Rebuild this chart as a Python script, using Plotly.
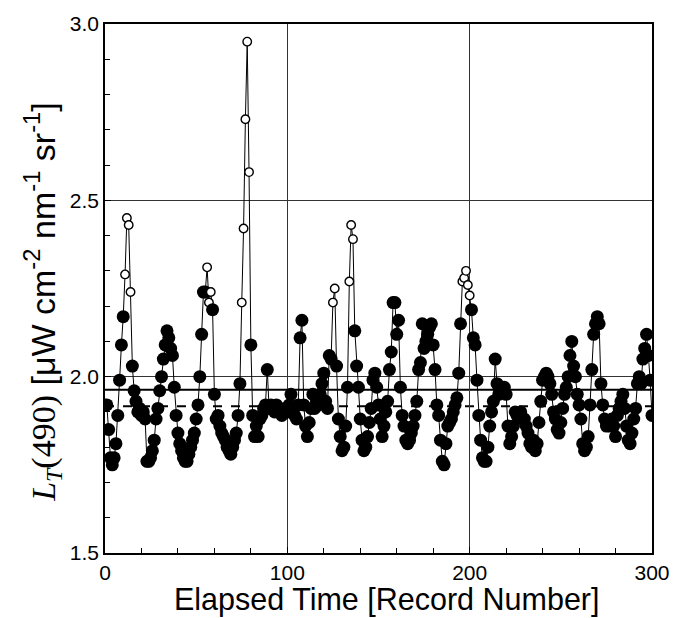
import plotly.graph_objects as go

# Record numbers 1..300 and L_T(490) values
values_001_050 = [1.92, 1.85, 1.77, 1.75, 1.77, 1.81, 1.89, 1.99, 2.09, 2.17,
                  2.29, 2.45, 2.43, 2.24, 2.03, 1.96, 1.93, 1.90, 1.91, 1.89,
                  1.90, 1.88, 1.76, 1.76, 1.77, 1.79, 1.82, 1.88, 1.91, 1.96,
                  2.00, 2.05, 2.09, 2.13, 2.11, 2.08, 2.06, 1.97, 1.89, 1.84,
                  1.81, 1.79, 1.77, 1.76, 1.76, 1.78, 1.80, 1.82, 1.84, 1.88]
values_051_100 = [1.92, 2.00, 2.12, 2.24, 2.24, 2.31, 2.21, 2.24, 2.19, 1.95,
                  1.88, 1.89, 1.86, 1.84, 1.83, 1.82, 1.80, 1.79, 1.78, 1.80,
                  1.82, 1.84, 1.89, 1.98, 2.21, 2.42, 2.73, 2.95, 2.58, 2.09,
                  1.89, 1.83, 1.86, 1.83, 1.88, 1.89, 1.91, 1.92, 2.02, 1.91,
                  1.92, 1.91, 1.90, 1.92, 1.90, 1.91, 1.89, 1.90, 1.91, 1.90]
values_101_150 = [1.92, 1.95, 1.91, 1.89, 1.88, 1.92, 2.11, 2.16, 1.92, 1.86,
                  1.83, 1.87, 1.91, 1.95, 1.91, 1.93, 1.92, 1.95, 1.98, 2.01,
                  1.93, 1.91, 2.06, 2.05, 2.21, 2.25, 2.03, 1.88, 1.83, 1.79,
                  1.80, 1.86, 1.97, 2.27, 2.43, 2.39, 2.13, 2.03, 1.97, 1.88,
                  1.82, 1.79, 1.80, 1.83, 1.87, 1.91, 1.99, 2.01, 1.97, 1.92]
values_151_200 = [1.88, 1.83, 1.86, 1.90, 1.93, 2.02, 2.07, 2.21, 2.21, 2.12,
                  2.16, 1.97, 1.89, 1.86, 1.82, 1.81, 1.82, 1.84, 1.86, 1.89,
                  1.93, 2.02, 2.04, 2.15, 2.08, 2.10, 2.12, 2.14, 2.15, 2.09,
                  2.02, 1.92, 1.89, 1.82, 1.76, 1.75, 1.81, 1.86, 1.87, 1.88,
                  1.90, 1.92, 1.94, 2.01, 2.15, 2.27, 2.28, 2.30, 2.26, 2.23]
values_201_250 = [2.19, 2.11, 2.09, 1.99, 1.89, 1.82, 1.77, 1.76, 1.76, 1.80,
                  1.86, 1.90, 1.93, 2.05, 1.98, 1.95, 1.96, 1.97, 1.97, 1.95,
                  1.86, 1.81, 1.83, 1.86, 1.90, 1.89, 1.89, 1.90, 1.88, 1.88,
                  1.86, 1.84, 1.81, 1.80, 1.82, 1.79, 1.81, 1.87, 1.93, 1.99,
                  2.00, 2.01, 2.00, 1.98, 1.95, 1.90, 1.88, 1.85, 1.84, 1.87]
values_251_300 = [1.91, 1.95, 1.97, 2.00, 2.06, 2.10, 2.03, 2.00, 1.95, 1.92,
                  1.88, 1.81, 1.79, 1.80, 1.83, 1.92, 2.02, 2.12, 2.15, 2.17,
                  2.15, 1.98, 1.92, 1.88, 1.86, 1.87, 1.86, 1.88, 1.86, 1.83,
                  1.89, 1.91, 1.93, 1.95, 1.91, 1.86, 1.82, 1.81, 1.84, 1.88,
                  1.91, 1.98, 2.00, 1.98, 2.05, 2.08, 2.12, 2.06, 1.99, 1.89]

values = (values_001_050 + values_051_100 + values_101_150
          + values_151_200 + values_201_250 + values_251_300)
records = list(range(1, len(values) + 1))

# Records drawn as open circles (flagged values)
flagged_records = [11, 12, 13, 14, 56, 57, 58, 75, 76, 77, 78, 79,
                   125, 126, 134, 135, 136, 196, 197, 198, 199, 200]

# Horizontal reference levels
mean_level = 1.963
dashed_level = 1.916

colors = ["white" if r in flagged_records else "black" for r in records]
sizes = [8.5 if r in flagged_records else 13 for r in records]
lwidths = [1.4 if r in flagged_records else 0 for r in records]

fig = go.Figure()
fig.add_trace(go.Scatter(
    x=records, y=values, mode="lines+markers",
    line=dict(color="black", width=1),
    marker=dict(size=sizes, color=colors, opacity=1,
                line=dict(color="black", width=lwidths)),
    showlegend=False, hoverinfo="x+y",
))

fig.add_shape(type="line", xref="x", yref="y", x0=0, x1=300,
              y0=mean_level, y1=mean_level,
              line=dict(color="black", width=2), layer="below")
fig.add_shape(type="line", xref="x", yref="y", x0=0, x1=300,
              y0=dashed_level, y1=dashed_level,
              line=dict(color="black", width=2, dash="dash"), layer="below")

axis_font = dict(family="Liberation Sans, Arial, sans-serif", size=21, color="black")

fig.update_layout(
    width=683, height=618,
    margin=dict(l=105, r=31, t=16, b=65),
    paper_bgcolor="white", plot_bgcolor="white",
    font=axis_font,
    xaxis=dict(range=[0, 300], dtick=100, tick0=0,
               showgrid=True, gridcolor="#333", gridwidth=1,
               showline=True, linecolor="black", linewidth=1.5, mirror=True,
               ticks="inside", ticklen=6, tickcolor="black",
               minor=dict(dtick=20, ticks="inside", ticklen=5, tickcolor="black", showgrid=False),
               zeroline=False, tickfont=axis_font),
    yaxis=dict(range=[1.5, 3.0], dtick=0.5, tick0=1.5, tickformat=".1f",
               showgrid=True, gridcolor="#333", gridwidth=1,
               showline=True, linecolor="black", linewidth=1.5, mirror=True,
               ticks="inside", ticklen=6, tickcolor="black",
               minor=dict(dtick=0.1, ticks="inside", ticklen=5, tickcolor="black", showgrid=False),
               zeroline=False, tickfont=axis_font),
    annotations=[
        dict(text="Elapsed Time [Record Number]", xref="paper", yref="paper",
             x=0.515, y=-0.088, xanchor="center", yanchor="middle",
             showarrow=False,
             font=dict(family="Liberation Sans, Arial, sans-serif", size=30.5, color="black")),
        dict(text=("<span style=\"font-family:Liberation Serif\"><i>L</i><sub><i>T</i></sub>(490)</span>"
                   " [μW cm<sup>-2</sup> nm<sup>-1</sup> sr<sup>-1</sup>]"),
             xref="paper", yref="paper", x=-0.115, y=0.475,
             xanchor="center", yanchor="middle", textangle=-90, showarrow=False,
             font=dict(family="Liberation Sans, Arial, sans-serif", size=34, color="black")),
    ],
)

fig.write_html("out.html")
